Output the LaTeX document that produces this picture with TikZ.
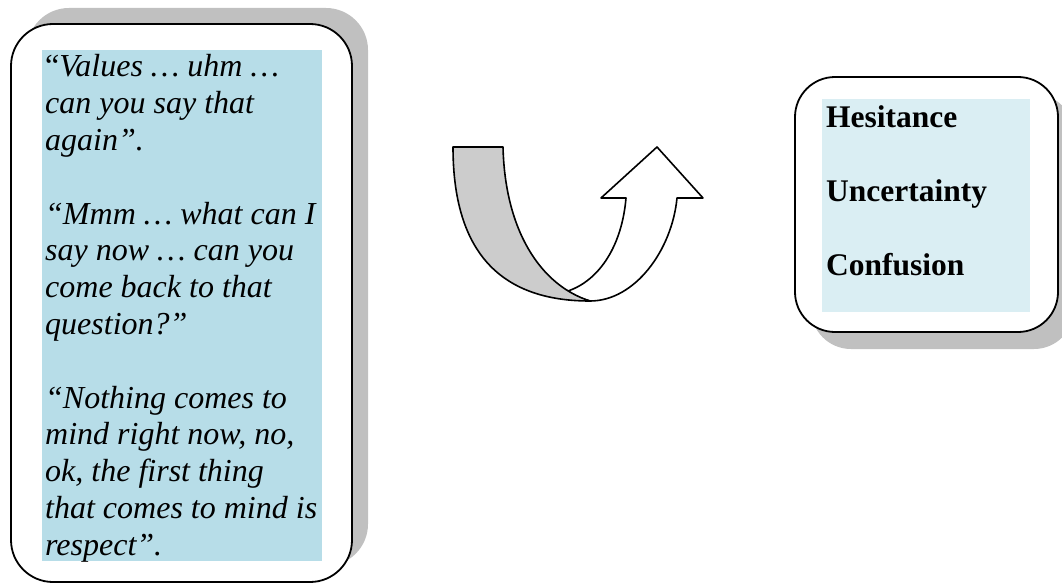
\documentclass[tikz,border=0pt]{standalone}
\usepackage{fontspec}
\setmainfont{Liberation Serif}
\usetikzlibrary{shadows}
\definecolor{quoteblue}{RGB}{183,221,232}
\definecolor{feelblue}{RGB}{218,238,243}
\definecolor{shadowgray}{RGB}{192,192,192}
\definecolor{ribbongray}{RGB}{204,204,204}
\begin{document}
\begin{tikzpicture}[
x=1pt,y=-1pt,
card/.style={draw,line width=1.8pt,fill=white,inner sep=0pt},
upshadow/.style={drop shadow={shadow xshift=16pt,shadow yshift=16pt,fill=shadowgray,opacity=1}},
downshadow/.style={drop shadow={shadow xshift=16pt,shadow yshift=-17pt,fill=shadowgray,opacity=1}},
shade/.style={fill=#1,inner sep=0pt,anchor=north west},
words/.style={align=left,anchor=north west,inner xsep=3pt,inner ysep=1pt},
ribbon/.style={draw,line width=1.6pt,line join=round}
]
\useasboundingbox (0,0) rectangle (1062,583);
\node[card,upshadow,rounded corners=42pt,minimum width=341pt,minimum height=558pt] (quotes) at (181.5,303) {};
\node[shade=quoteblue,minimum width=280pt,minimum height=511pt] (quotebg) at (42,50) {};
\node[words,font=\fontsize{32}{36.8}\selectfont\itshape] (quotetext) at (quotebg.north west) {%
	\strut{\upshape“}Values … uhm …\\
	can you say that\\
	again”.\\[36.8pt]
	“Mmm … what can I\\
	say now … can you\\
	come back to that\\
	question?”\\[36.8pt]
	“Nothing comes to\\
	mind right now, no,\\
	ok, the first thing\\
	that comes to mind is\\
	respect”.};
\node[card,downshadow,rounded corners=40pt,minimum width=263pt,minimum height=255pt] (feelings) at (926.5,204.5) {};
\node[shade=feelblue,minimum width=208pt,minimum height=213pt] (feelbg) at (822,99) {};
\node[words,inner xsep=4pt,inner ysep=3pt,font=\fontsize{31.5}{36.8}\selectfont\bfseries] (feeltext) at (feelbg.north west) {%
	\strut Hesitance\\[36.8pt]
	Uncertainty\\[36.8pt]
	Confusion};
\coordinate (ribbontl) at (453,147);
\coordinate (ribbontr) at (503,147);
\coordinate (ribbonbot) at (590,301);
\coordinate (cross) at (568,291);
\coordinate (shaftl) at (626,198);
\coordinate (headl) at (601,198);
\coordinate (tip) at (657,147);
\coordinate (headr) at (703,198);
\coordinate (shaftr) at (677,198);
\draw[ribbon,fill=white] (cross) .. controls (600,280) and (622,245) .. (shaftl) -- (headl) -- (tip) -- (headr) -- (shaftr)
	.. controls (672,250) and (635,301) .. (ribbonbot) .. controls (583,299) and (575,296) .. (cross) -- cycle;
\draw[ribbon,fill=ribbongray] (ribbontl) -- (ribbontr) .. controls (505,230) and (540,285) .. (ribbonbot)
	.. controls (490,301) and (453,240) .. (ribbontl) -- cycle;
\end{tikzpicture}
\end{document}
